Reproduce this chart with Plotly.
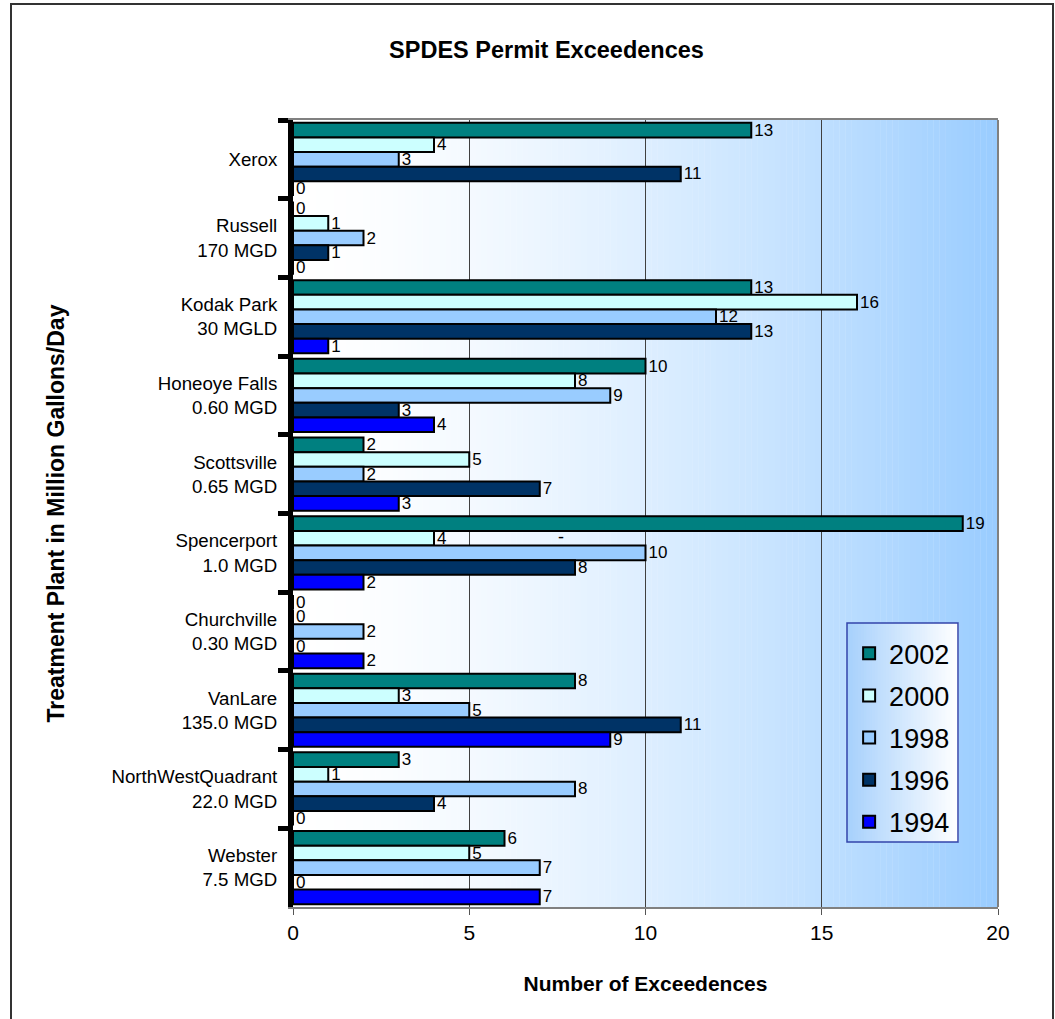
import plotly.graph_objects as go

# Treatment plants (top to bottom) and permit exceedences per survey year
plants = [
    "Xerox",
    "Russell<br>170 MGD",
    "Kodak Park<br>30 MGLD",
    "Honeoye Falls<br>0.60 MGD",
    "Scottsville<br>0.65 MGD",
    "Spencerport<br>1.0 MGD",
    "Churchville<br>0.30 MGD",
    "VanLare<br>135.0 MGD",
    "NorthWestQuadrant<br>22.0 MGD",
    "Webster<br>7.5 MGD",
]
years = ["2002", "2000", "1998", "1996", "1994"]
exceed_2002 = [13, 0, 13, 10, 2, 19, 0, 8, 3, 6]
exceed_2000 = [4, 1, 16, 8, 5, 4, 0, 3, 1, 5]
exceed_1998 = [3, 2, 12, 9, 2, 10, 2, 5, 8, 7]
exceed_1996 = [11, 1, 13, 3, 7, 8, 0, 11, 4, 0]
exceed_1994 = [0, 0, 1, 4, 3, 2, 2, 9, 0, 7]
x_ticks = [0, 5, 10, 15, 20]

series = [exceed_2002, exceed_2000, exceed_1998, exceed_1996, exceed_1994]
colors = ["#008080", "#CCFFFF", "#99CCFF", "#003366", "#0000FF"]

FONT = "Liberation Sans, Arial, sans-serif"

fig = go.Figure()
for yr, vals, col in zip(years, series, colors):
    fig.add_trace(go.Bar(
        y=plants, x=vals, name=yr, orientation="h",
        marker=dict(color=col, line=dict(color="black", width=2)),
        text=[str(v) for v in vals], textposition="outside",
        constraintext="none",
        textfont=dict(family=FONT, size=17, color="black"),
        cliponaxis=False, legendgroup=yr,
    ))


def mix(c0, c1, t):
    return "rgb(%d,%d,%d)" % tuple(round(a + (b - a) * t) for a, b in zip(c0, c1))


shapes = []
# horizontal white -> light blue gradient behind the bars
n = 120
for i in range(n):
    t = ((i + 0.5) / n) ** 1.6
    shapes.append(dict(type="rect", xref="x", yref="paper",
                       x0=20 * i / n, x1=20 * (i + 1) / n + 0.01, y0=0, y1=1,
                       fillcolor=mix((255, 255, 255), (153, 204, 255), t),
                       line=dict(width=0), layer="below"))
# right border of the plot area
shapes.append(dict(type="line", xref="paper", yref="paper", x0=1, x1=1, y0=0, y1=1,
                   line=dict(color="#808080", width=2)))

# legend box with a light blue -> white gradient
lx0, lx1 = (847 - 293) / 705, (958 - 293) / 705
ly1, ly0 = (907 - 623) / 787, (907 - 842) / 787
m = 40
for i in range(m):
    t = (i + 0.5) / m
    shapes.append(dict(type="rect", xref="paper", yref="paper",
                       x0=lx0 + (lx1 - lx0) * i / m, x1=lx0 + (lx1 - lx0) * (i + 1) / m + 0.001,
                       y0=ly0, y1=ly1,
                       fillcolor=mix((166, 208, 252), (255, 255, 255), t),
                       line=dict(width=0), layer="above"))
shapes.append(dict(type="rect", xref="paper", yref="paper", x0=lx0, x1=lx1, y0=ly0, y1=ly1,
                   line=dict(color="#3344AA", width=1.5), layer="above"))

# outer frame of the chart
shapes.append(dict(type="rect", xref="paper", yref="paper",
                   x0=(11 - 293) / 705, x1=(1053 - 293) / 705,
                   y0=(907 - 1030) / 787, y1=(907 - 4) / 787,
                   line=dict(color="#333333", width=2)))

fig.update_layout(
    width=1055, height=1019,
    margin=dict(l=293, r=57, t=120, b=112),
    paper_bgcolor="white", plot_bgcolor="white",
    barmode="group", bargap=0.07, bargroupgap=0,
    font=dict(family=FONT, color="black"),
    title=dict(text="<b>SPDES Permit Exceedences</b>", x=0.518, xanchor="center",
               y=1 - 50 / 1019, yanchor="middle", font=dict(size=23.5)),
    shapes=shapes,
    showlegend=True,
    legend=dict(x=lx0 + 0.003, y=ly1 - 0.008, xanchor="left", yanchor="top",
                bgcolor="rgba(0,0,0,0)", borderwidth=0,
                font=dict(size=27), traceorder="grouped", tracegroupgap=4,
                itemclick=False),
    xaxis=dict(range=[0, 20], tickvals=x_ticks, ticks="outside", ticklen=6,
               tickcolor="#555555", tickfont=dict(size=21),
               showgrid=True, gridcolor="#404040", gridwidth=1,
               showline=True, linecolor="#808080", linewidth=2, mirror=True,
               zeroline=False,
               title=dict(text="<b>Number of Exceedences</b>", font=dict(size=21), standoff=33)),
    yaxis=dict(autorange="reversed", tickson="boundaries", ticks="outside",
               ticklen=10, tickwidth=5, tickcolor="black",
               showline=True, linecolor="black", linewidth=5,
               tickfont=dict(size=18.7), ticklabelstandoff=7, showgrid=False,
               title=dict(text="<b>Treatment Plant in Million Gallons/Day</b>",
                          font=dict(size=23), standoff=42)),
)

# stray dash mark in the Spencerport group
fig.add_annotation(x=7.6, y=plants[5], yshift=16, text="-", showarrow=False,
                   font=dict(size=18, color="black"))

fig.write_html("out.html")
